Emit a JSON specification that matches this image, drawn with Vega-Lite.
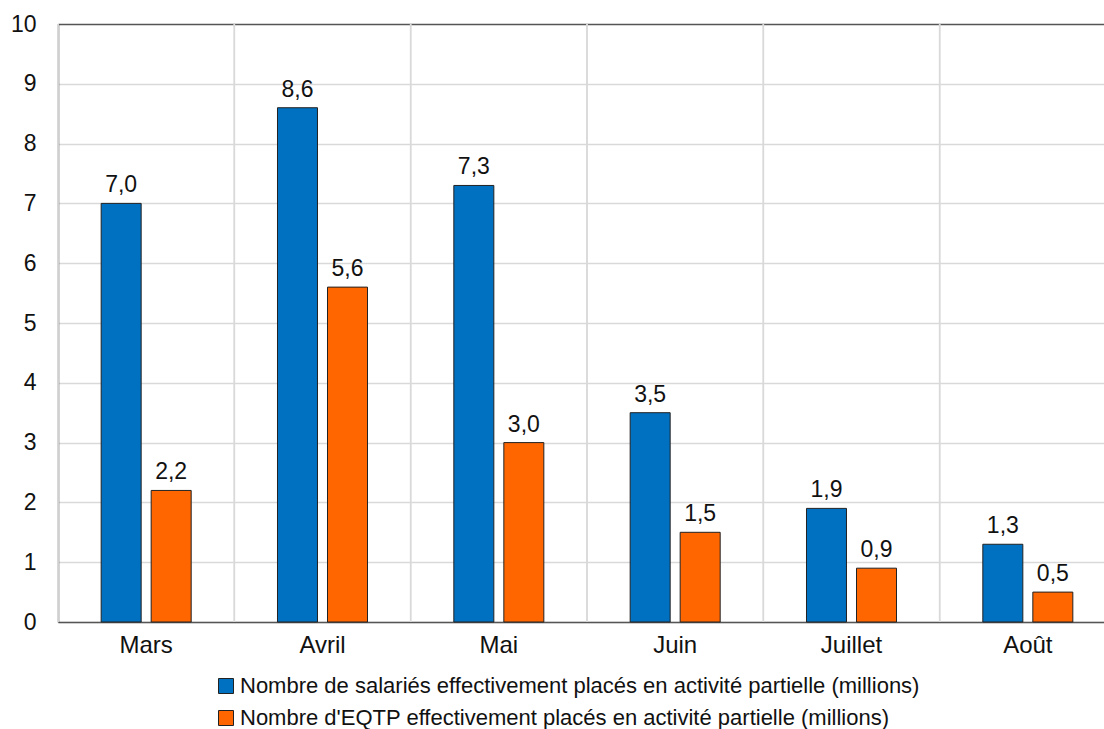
{
  "$schema": "https://vega.github.io/schema/vega-lite/v6.json",
  "width": 1046,
  "height": 598,
  "autosize": "none",
  "padding": {"left": 58, "top": 24, "right": 0, "bottom": 107},
  "background": "white",
  "data": {
    "values": [
      {"mois": "Mars", "serie": "Nombre de salariés effectivement placés en activité partielle (millions)", "valeur": 7.0},
      {"mois": "Mars", "serie": "Nombre d'EQTP effectivement placés en activité partielle (millions)", "valeur": 2.2},
      {"mois": "Avril", "serie": "Nombre de salariés effectivement placés en activité partielle (millions)", "valeur": 8.6},
      {"mois": "Avril", "serie": "Nombre d'EQTP effectivement placés en activité partielle (millions)", "valeur": 5.6},
      {"mois": "Mai", "serie": "Nombre de salariés effectivement placés en activité partielle (millions)", "valeur": 7.3},
      {"mois": "Mai", "serie": "Nombre d'EQTP effectivement placés en activité partielle (millions)", "valeur": 3.0},
      {"mois": "Juin", "serie": "Nombre de salariés effectivement placés en activité partielle (millions)", "valeur": 3.5},
      {"mois": "Juin", "serie": "Nombre d'EQTP effectivement placés en activité partielle (millions)", "valeur": 1.5},
      {"mois": "Juillet", "serie": "Nombre de salariés effectivement placés en activité partielle (millions)", "valeur": 1.9},
      {"mois": "Juillet", "serie": "Nombre d'EQTP effectivement placés en activité partielle (millions)", "valeur": 0.9},
      {"mois": "Août", "serie": "Nombre de salariés effectivement placés en activité partielle (millions)", "valeur": 1.3},
      {"mois": "Août", "serie": "Nombre d'EQTP effectivement placés en activité partielle (millions)", "valeur": 0.5}
    ]
  },
  "encoding": {
    "x": {
      "field": "mois",
      "type": "nominal",
      "sort": ["Mars", "Avril", "Mai", "Juin", "Juillet", "Août"],
      "scale": {"range": [0, 1058], "paddingInner": 0, "paddingOuter": 0},
      "axis": {
        "title": null,
        "labelAngle": 0,
        "labelFontSize": 24,
        "labelPadding": 11,
        "ticks": false,
        "tickSize": 0,
        "domainColor": "#555555",
        "domainWidth": 1.5,
        "grid": false
      }
    }
  },
  "layer": [
    {
      "mark": {"type": "rule", "color": "#d9d9d9", "strokeWidth": 1.5},
      "encoding": {
        "x": {"field": "mois", "type": "nominal", "sort": ["Mars", "Avril", "Mai", "Juin", "Juillet", "Août"], "bandPosition": 0}
      }
    },
    {
      "mark": {"type": "bar", "stroke": "#222222", "strokeWidth": 1},
      "encoding": {
        "xOffset": {
          "field": "serie",
          "type": "nominal",
          "sort": ["Nombre de salariés effectivement placés en activité partielle (millions)", "Nombre d'EQTP effectivement placés en activité partielle (millions)"],
          "scale": {"paddingInner": 0.2, "paddingOuter": 0.863}
        },
        "y": {
          "field": "valeur",
          "type": "quantitative",
          "scale": {"domain": [0, 10], "nice": false},
          "axis": {
            "title": null,
            "values": [0, 1, 2, 3, 4, 5, 6, 7, 8, 9, 10],
            "format": "d",
            "labelFontSize": 23,
            "labelPadding": 22,
            "ticks": false,
            "tickSize": 0,
            "domainColor": "#555555",
            "domainWidth": 1.5,
            "grid": true,
            "gridColor": {"condition": {"test": "datum.value === 10", "value": "#555555"}, "value": "#d9d9d9"},
            "gridWidth": 1.5
          }
        },
        "color": {
          "field": "serie",
          "type": "nominal",
          "sort": ["Nombre de salariés effectivement placés en activité partielle (millions)", "Nombre d'EQTP effectivement placés en activité partielle (millions)"],
          "scale": {
            "domain": ["Nombre de salariés effectivement placés en activité partielle (millions)", "Nombre d'EQTP effectivement placés en activité partielle (millions)"],
            "range": ["#0070C0", "#FF6600"]
          },
          "legend": {
            "title": null,
            "orient": "none",
            "legendX": 157,
            "legendY": 651,
            "direction": "vertical",
            "symbolType": "square",
            "symbolSize": 225,
            "symbolStrokeColor": "#222222",
            "symbolStrokeWidth": 1,
            "symbolOpacity": 1,
            "labelFontSize": 22,
            "labelOffset": 3,
            "labelLimit": 0,
            "rowPadding": 10
          }
        }
      }
    },
    {
      "mark": {"type": "text", "baseline": "bottom", "dy": -6, "fontSize": 23, "color": "#111111"},
      "encoding": {
        "xOffset": {
          "field": "serie",
          "type": "nominal",
          "sort": ["Nombre de salariés effectivement placés en activité partielle (millions)", "Nombre d'EQTP effectivement placés en activité partielle (millions)"],
          "scale": {"paddingInner": 0.2, "paddingOuter": 0.863}
        },
        "y": {"field": "valeur", "type": "quantitative"},
        "text": {"field": "valeur", "type": "quantitative", "format": ".1f"}
      }
    }
  ],
  "config": {
    "font": "Liberation Sans",
    "view": {"stroke": null},
    "axis": {"labelColor": "#111111", "labelFont": "Liberation Sans"},
    "legend": {"labelColor": "#111111", "labelFont": "Liberation Sans"},
    "locale": {"number": {"decimal": ",", "thousands": " ", "grouping": [3], "currency": ["", " €"]}}
  }
}
